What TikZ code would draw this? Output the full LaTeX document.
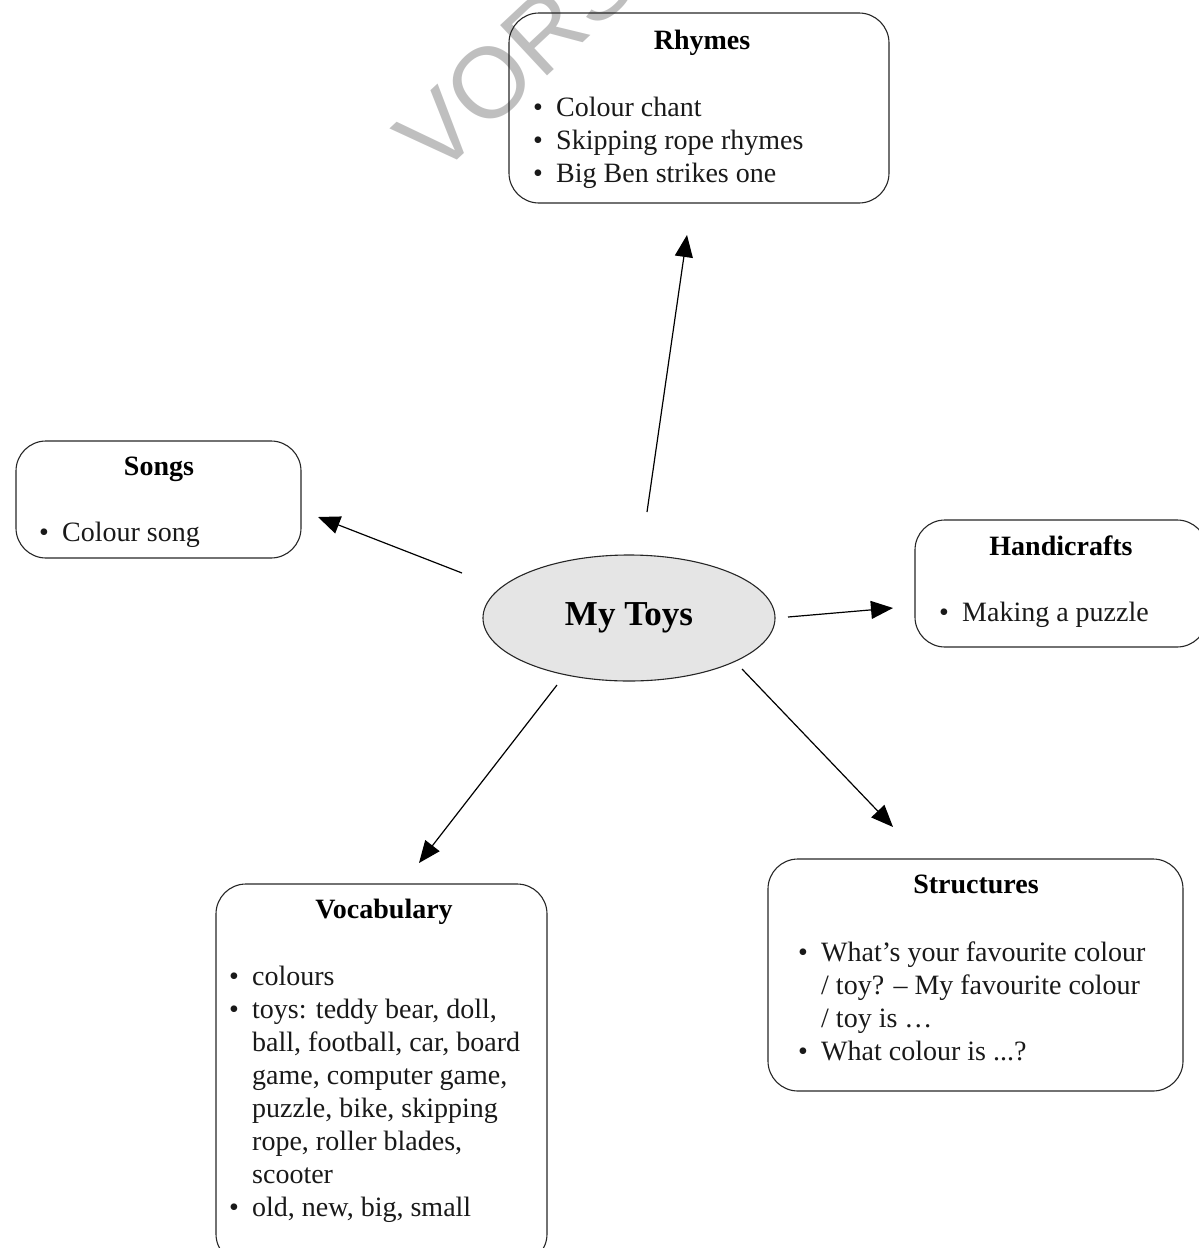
\documentclass[tikz,border=0pt]{standalone}
\usepackage{fontspec}
\setmainfont{Liberation Serif}
\newfontfamily\wmfont{Liberation Sans}
\usetikzlibrary{arrows.meta,shapes.geometric}
\tikzset{
  box/.style={draw=black!85, line width=1.1pt, rounded corners=30pt, inner sep=0pt},
  ttl/.style={font=\fontsize{28}{33}\selectfont\bfseries, anchor=base, inner sep=0pt},
  ln/.style={font=\fontsize{28}{33}\selectfont, anchor=base west, inner sep=0pt, text=black!90},
  arr/.style={line width=1.2pt, -{Triangle[length=22pt,width=18pt]}},
  topic/.style={ellipse, draw=black!85, line width=1.1pt, fill=black!10, minimum width=292pt, minimum height=126pt, inner sep=0pt, font=\fontsize{35}{40}\selectfont\bfseries},
}
\newcommand{\bul}{\makebox[23pt][l]{\textbullet}}
\begin{document}
\begin{tikzpicture}[x=1pt,y=-1pt]
\useasboundingbox (0,0) rectangle (1199,1248);
\begin{scope}
\clip (0,0) rectangle (1199,1248);
\node[font=\wmfont\fontsize{100}{100}\selectfont, text=black!25, rotate=43, anchor=base west, inner sep=0pt] (wm) at (436,180) {VORSCHAU};
\end{scope}

% central topic
\node[topic] (toy) at (629,618) {My Toys};

% Rhymes
\node[box, minimum width=380pt, minimum height=190pt] (rhymes) at (699,108) {};
\node[ttl] (rhT) at (702,49) {Rhymes};
\node[ln] (rh1) at (533,116) {\bul Colour chant};
\node[ln] (rh2) at (533,149) {\bul Skipping rope rhymes};
\node[ln] (rh3) at (533,182) {\bul Big Ben strikes one};

% Songs
\node[box, minimum width=285pt, minimum height=117pt] (songs) at (158.5,499.5) {};
\node[ttl] (soT) at (159,475) {Songs};
\node[ln] (so1) at (39,541) {\bul Colour song};

% Handicrafts
\node[box, minimum width=292pt, minimum height=127pt] (hand) at (1061,583.5) {};
\node[ttl] (haT) at (1061,555) {Handicrafts};
\node[ln] (ha1) at (939,621) {\bul Making a puzzle};

% Vocabulary
\node[box, minimum width=331pt, minimum height=380pt] (voc) at (381.5,1074) {};
\node[ttl] (voT) at (384,918) {Vocabulary};
\node[ln] (vo1) at (229,985) {\bul colours};
\node[ln] (vo2) at (229,1018) {\bul toys: teddy bear, doll,};
\node[ln] (vo3) at (252,1051) {ball, football, car, board};
\node[ln] (vo4) at (252,1084) {game, computer game,};
\node[ln] (vo5) at (252,1117) {puzzle, bike, skipping};
\node[ln] (vo6) at (252,1150) {rope, roller blades,};
\node[ln] (vo7) at (252,1183) {scooter};
\node[ln] (vo8) at (229,1216) {\bul old, new, big, small};

% Structures
\node[box, minimum width=415pt, minimum height=232pt] (str) at (975.5,975) {};
\node[ttl] (stT) at (976,893) {Structures};
\node[ln] (st1) at (798,961) {\bul What’s your favourite colour};
\node[ln] (st2) at (821,994) {/ toy? – My favourite colour};
\node[ln] (st3) at (821,1027) {/ toy is …};
\node[ln] (st4) at (798,1060) {\bul What colour is ...?};

% connector ends
\coordinate (aR0) at (647,512); \coordinate (aR1) at (687,235);
\coordinate (aS0) at (462,573); \coordinate (aS1) at (318,517);
\coordinate (aH0) at (788,617); \coordinate (aH1) at (893,608);
\coordinate (aV0) at (557,685); \coordinate (aV1) at (419,863);
\coordinate (aT0) at (742,669); \coordinate (aT1) at (893,827);
\draw[arr] (aR0) -- (aR1);
\draw[arr] (aS0) -- (aS1);
\draw[arr] (aH0) -- (aH1);
\draw[arr] (aV0) -- (aV1);
\draw[arr] (aT0) -- (aT1);
\end{tikzpicture}
\end{document}
